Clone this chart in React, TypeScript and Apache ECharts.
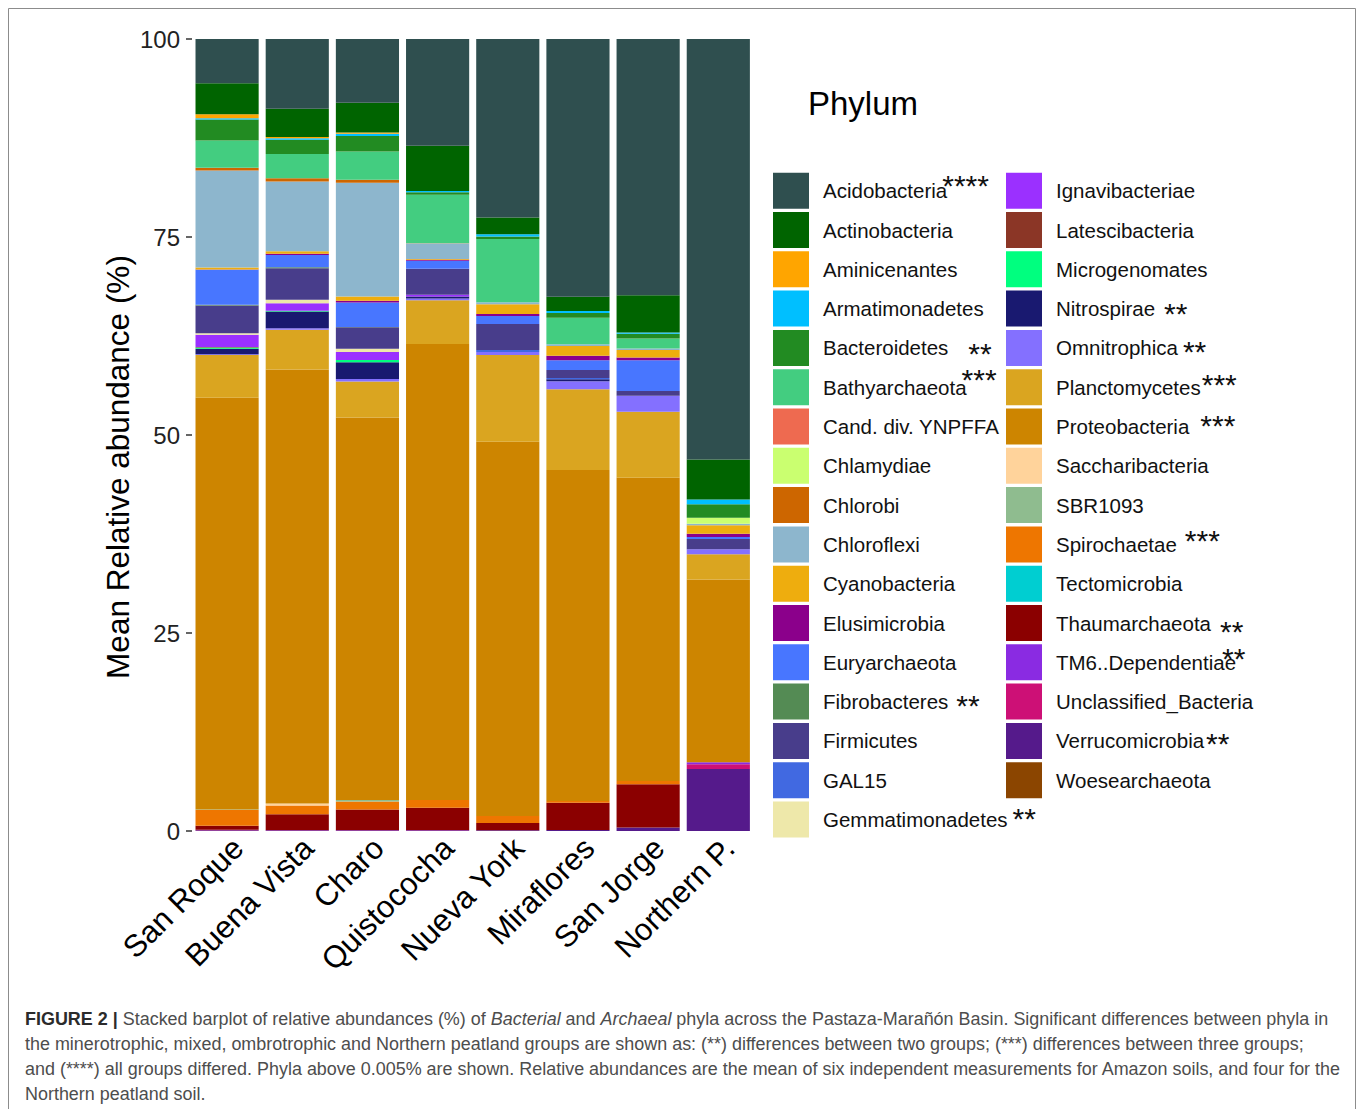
import React, { useEffect, useRef } from "react";
import * as echarts from "echarts";

// Sampling sites along the x axis
const sites = [
  "San Roque",
  "Buena Vista",
  "Charo",
  "Quistococha",
  "Nueva York",
  "Miraflores",
  "San Jorge",
  "Northern P.",
];

// Phyla in legend order (first one sits on top of each stack)
const phyla = [
  "Acidobacteria",
  "Actinobacteria",
  "Aminicenantes",
  "Armatimonadetes",
  "Bacteroidetes",
  "Bathyarchaeota",
  "Cand. div. YNPFFA",
  "Chlamydiae",
  "Chlorobi",
  "Chloroflexi",
  "Cyanobacteria",
  "Elusimicrobia",
  "Euryarchaeota",
  "Fibrobacteres",
  "Firmicutes",
  "GAL15",
  "Gemmatimonadetes",
  "Ignavibacteriae",
  "Latescibacteria",
  "Microgenomates",
  "Nitrospirae",
  "Omnitrophica",
  "Planctomycetes",
  "Proteobacteria",
  "Saccharibacteria",
  "SBR1093",
  "Spirochaetae",
  "Tectomicrobia",
  "Thaumarchaeota",
  "TM6..Dependentiae",
  "Unclassified_Bacteria",
  "Verrucomicrobia",
  "Woesearchaeota",
];

const phylumColors = [
  "#2F4F4F", "#006400", "#FFA500", "#00BFFF", "#228B22", "#43CD80",
  "#EE6A50", "#CAFF70", "#CD6600", "#8DB6CD", "#EEAD0E", "#8B008B",
  "#4876FF", "#548B54", "#483D8B", "#4169E1", "#EEE8AA", "#9B30FF",
  "#8B3626", "#00FF7F", "#191970", "#8470FF", "#DAA520", "#CD8500",
  "#FFD39B", "#8FBC8F", "#EE7600", "#00CED1", "#8B0000", "#8A2BE2",
  "#CD1076", "#551A8B", "#8B4500",
];

// Mean relative abundance (%) per site, same order as `sites`
const acidobacteria = [5.6, 8.81, 8.04, 13.48, 22.55, 32.55, 32.35, 53.09];
const actinobacteria = [3.9, 3.55, 3.75, 5.7, 2.1, 1.8, 4.7, 5.05];
const aminicenantes = [0.5, 0.17, 0.17, 0, 0, 0, 0, 0];
const armatimonadetes = [0.15, 0.2, 0.3, 0.17, 0.3, 0.25, 0.17, 0.6];
const bacteroidetes = [2.65, 1.8, 1.95, 0.3, 0.3, 0.6, 0.6, 1.7];
const bathyarchaeota = [3.45, 3.05, 3.57, 6.13, 8.0, 3.35, 1.25, 0];
const candDivYNPFFA = [0.05, 0, 0, 0.05, 0, 0, 0, 0];
const chlamydiae = [0, 0, 0, 0, 0, 0, 0, 0.76];
const chlorobi = [0.3, 0.42, 0.38, 0, 0, 0, 0, 0];
const chloroflexi = [12.25, 8.8, 14.36, 1.95, 0.25, 0.2, 0.2, 0.2];
const cyanobacteria = [0.25, 0.33, 0.54, 0.1, 1.22, 1.25, 0.95, 1.06];
const elusimicrobia = [0.05, 0.15, 0.2, 0.12, 0.25, 0.55, 0.33, 0.42];
const euryarchaeota = [4.4, 1.55, 3.1, 1.0, 1.03, 1.25, 3.9, 0.25];
const fibrobacteres = [0.1, 0.1, 0.05, 0, 0, 0, 0, 0];
const firmicutes = [3.5, 4.0, 2.7, 3.3, 3.27, 1.0, 0.6, 1.3];
const gal15 = [0, 0, 0, 0, 0.25, 0.17, 0, 0];
const gemmatimonadetes = [0.2, 0.43, 0.42, 0, 0, 0, 0, 0];
const ignavibacteriae = [1.55, 0.96, 1.0, 0.2, 0, 0, 0, 0];
const latescibacteria = [0.05, 0, 0, 0, 0, 0, 0, 0];
const microgenomates = [0.15, 0.1, 0.3, 0, 0, 0, 0, 0];
const nitrospirae = [0.7, 2.1, 2.1, 0.25, 0, 0.25, 0, 0];
const omnitrophica = [0.1, 0.2, 0.3, 0.25, 0.38, 1.0, 2.0, 0.63];
const planctomycetes = [5.4, 5.0, 4.55, 5.5, 10.95, 10.2, 8.35, 3.17];
const proteobacteria = [52.0, 54.8, 48.3, 57.6, 47.25, 41.8, 38.3, 23.1];
const saccharibacteria = [0, 0.25, 0, 0, 0, 0, 0, 0];
const sbr1093 = [0.05, 0, 0.2, 0, 0, 0, 0, 0];
const spirochaetae = [2.0, 1.1, 1.0, 0.96, 0.9, 0.2, 0.4, 0];
const tectomicrobia = [0, 0, 0, 0, 0, 0, 0, 0];
const thaumarchaeota = [0.5, 2.0, 2.6, 2.82, 0.9, 3.45, 5.45, 0];
const tm6Dependentiae = [0, 0, 0, 0, 0, 0, 0, 0.25];
const unclassifiedBacteria = [0.05, 0.05, 0.04, 0.04, 0, 0, 0, 0.59];
const verrucomicrobia = [0.1, 0.08, 0.08, 0.08, 0.1, 0.13, 0.45, 7.83];
const woesearchaeota = [0, 0, 0, 0, 0, 0, 0, 0];

const abundances = [
  acidobacteria, actinobacteria, aminicenantes, armatimonadetes,
  bacteroidetes, bathyarchaeota, candDivYNPFFA, chlamydiae, chlorobi,
  chloroflexi, cyanobacteria, elusimicrobia, euryarchaeota, fibrobacteres,
  firmicutes, gal15, gemmatimonadetes, ignavibacteriae, latescibacteria,
  microgenomates, nitrospirae, omnitrophica, planctomycetes, proteobacteria,
  saccharibacteria, sbr1093, spirochaetae, tectomicrobia, thaumarchaeota,
  tm6Dependentiae, unclassifiedBacteria, verrucomicrobia, woesearchaeota,
];

// Significance marks shown next to legend names
const significanceStars: Record<string, string> = {
  Acidobacteria: "****",
  Bacteroidetes: "**",
  Bathyarchaeota: "***",
  Fibrobacteres: "**",
  Gemmatimonadetes: "**",
  Nitrospirae: "**",
  Omnitrophica: "**",
  Planctomycetes: "***",
  Proteobacteria: "***",
  Spirochaetae: "***",
  Thaumarchaeota: "**",
  "TM6..Dependentiae": "**",
  Verrucomicrobia: "**",
};

// Placement of the star marks: [horizontal gap after the name, lift above the row centre]
const starPlacement: Record<string, [number, number]> = {
  Acidobacteria: [-5, 12],
  Bacteroidetes: [20, 1],
  Bathyarchaeota: [-5, 14],
  Fibrobacteres: [8, 3],
  Gemmatimonadetes: [5, 8],
  Nitrospirae: [9, 1.5],
  Omnitrophica: [5, 3],
  Planctomycetes: [1, 9],
  Proteobacteria: [11, 8],
  Spirochaetae: [8, 11],
  Thaumarchaeota: [9, -2],
  "TM6..Dependentiae": [-14, 11],
  Verrucomicrobia: [2, 4],
};

const captionLines = [
  "{b|FIGURE 2 |} {n|Stacked barplot of relative abundances (%) of }{i|Bacterial}{n| and }{i|Archaeal}{n| phyla across the Pastaza-Marañón Basin. Significant differences between phyla in}",
  "{n|the minerotrophic, mixed, ombrotrophic and Northern peatland groups are shown as: (**) differences between two groups; (***) differences between three groups;}",
  "{n|and (****) all groups differed. Phyla above 0.005% are shown. Relative abundances are the mean of six independent measurements for Amazon soils, and four for the}",
  "{n|Northern peatland soil.}",
];

const FONT = "'Liberation Sans', Arial, Helvetica, sans-serif";
const LEGEND_FONT_SIZE = 20.5;
const KEY = 36;
const KEY_GAP = 3.3;
const LEGEND_TOP = 172.7;
const LEGEND_COLUMNS = [
  { left: 773, from: 0, to: 17 },
  { left: 1006, from: 17, to: 33 },
];
const NAME_INDENT = 9; // extra space between key and name
const STAR_FONT_SIZE = 30;
// how far an asterisk's ink sits above the middle of its em box
const STAR_INK_LIFT = 6.7;

const CAPTION_FONT = "'Liberation Sans', Arial, sans-serif";
const captionRich = {
  b: { fontWeight: "bold", fontSize: 18.5, lineHeight: 25, fill: "#2b2b2b", fontFamily: CAPTION_FONT },
  n: { fontSize: 18.5, lineHeight: 25, fill: "#4d4d4d", fontFamily: CAPTION_FONT },
  i: { fontStyle: "italic", fontSize: 18.5, lineHeight: 25, fill: "#4d4d4d", fontFamily: CAPTION_FONT },
};

function measureName(text: string) {
  const ctx = document.createElement("canvas").getContext("2d");
  if (!ctx) return text.length * LEGEND_FONT_SIZE * 0.5;
  ctx.font = `${LEGEND_FONT_SIZE}px 'Liberation Sans', Arial, sans-serif`;
  return ctx.measureText(text).width;
}

// Star marks placed after the legend names
function starGraphics() {
  const out: any[] = [];
  LEGEND_COLUMNS.forEach((col) => {
    phyla.slice(col.from, col.to).forEach((name, k) => {
      const stars = significanceStars[name];
      if (!stars) return;
      const [gap, lift] = starPlacement[name];
      const rowCentre = LEGEND_TOP + KEY / 2 + k * (KEY + KEY_GAP);
      const nameLeft = col.left + KEY + 5 + NAME_INDENT;
      out.push({
        type: "text",
        x: nameLeft + measureName(name) + gap,
        y: rowCentre - lift + STAR_INK_LIFT,
        silent: true,
        style: {
          text: stars,
          fontSize: STAR_FONT_SIZE,
          fontFamily: FONT,
          fill: "#111",
          align: "left",
          verticalAlign: "middle",
        },
      });
    });
  });
  return out;
}

export default function App() {
  const ref = useRef<HTMLDivElement>(null);

  useEffect(() => {
    if (!ref.current) return;
    const chart = echarts.init(ref.current, undefined, { renderer: "svg" });

    const legendBase = {
      orient: "vertical" as const,
      itemWidth: KEY,
      itemHeight: KEY,
      itemGap: KEY_GAP,
      icon: "rect",
      selectedMode: false,
      padding: 0,
      formatter: (name: string) => `{n|${name}}`,
      textStyle: {
        fontSize: LEGEND_FONT_SIZE,
        fontFamily: FONT,
        color: "#111",
        rich: {
          n: {
            fontSize: LEGEND_FONT_SIZE,
            lineHeight: KEY,
            padding: [0, 0, 0, NAME_INDENT],
            color: "#111",
            fontFamily: FONT,
          },
        },
      },
    };

    // Series are stacked bottom-up, so add them in reverse legend order
    const series = phyla
      .map((name, i) => ({
        name,
        type: "bar" as const,
        stack: "total",
        data: abundances[i],
        barCategoryGap: "10%",
        itemStyle: { color: phylumColors[i] },
        emphasis: { disabled: true },
        silent: true,
      }))
      .reverse();

    chart.setOption({
      animation: false,
      backgroundColor: "#ffffff",
      textStyle: { fontFamily: FONT },
      grid: { left: 192, right: 606.6, top: 39, bottom: 278, containLabel: false },
      xAxis: {
        type: "category",
        data: sites,
        axisLine: { show: false },
        axisTick: { show: false },
        axisLabel: {
          interval: 0,
          rotate: 45,
          margin: 1,
          verticalAlign: "top",
          fontSize: 31,
          color: "#000",
          fontFamily: FONT,
        },
      },
      yAxis: {
        type: "value",
        min: 0,
        max: 100,
        interval: 25,
        name: "Mean Relative abundance (%)",
        nameLocation: "middle",
        nameGap: 58,
        nameRotate: 90,
        nameTextStyle: { fontSize: 31.5, color: "#000", fontFamily: FONT, padding: [0, 64, 0, 0] },
        axisLine: { show: false },
        axisTick: { show: true, length: 6, lineStyle: { color: "#333", width: 1.5 } },
        splitLine: { show: false },
        axisLabel: { fontSize: 24, color: "#222", margin: 12, fontFamily: FONT },
      },
      legend: LEGEND_COLUMNS.map((col) => ({
        ...legendBase,
        data: phyla.slice(col.from, col.to),
        left: col.left,
        top: LEGEND_TOP,
      })),
      graphic: [
        {
          type: "rect",
          shape: { x: 8.5, y: 8.5, width: 1347, height: 1130 },
          style: { fill: "none", stroke: "#8c8c8c", lineWidth: 1 },
          silent: true,
        },
        {
          type: "text",
          left: 808,
          top: 87,
          style: { text: "Phylum", fontSize: 33, fill: "#000", fontFamily: FONT },
        },
        ...starGraphics(),
        {
          type: "text",
          x: 25,
          y: 1006,
          scaleX: 0.97,
          style: {
            text: captionLines.join("\n"),
            lineHeight: 25,
            fontFamily: CAPTION_FONT,
            fontSize: 18.5,
            fill: "#4d4d4d",
            verticalAlign: "top",
            rich: captionRich,
          },
        },
      ],
      series,
    });

    return () => chart.dispose();
  }, []);

  return (
    <div
      ref={ref}
      style={{ position: "fixed", left: 0, top: 0, width: 1360, height: 1109, background: "#fff" }}
    />
  );
}
